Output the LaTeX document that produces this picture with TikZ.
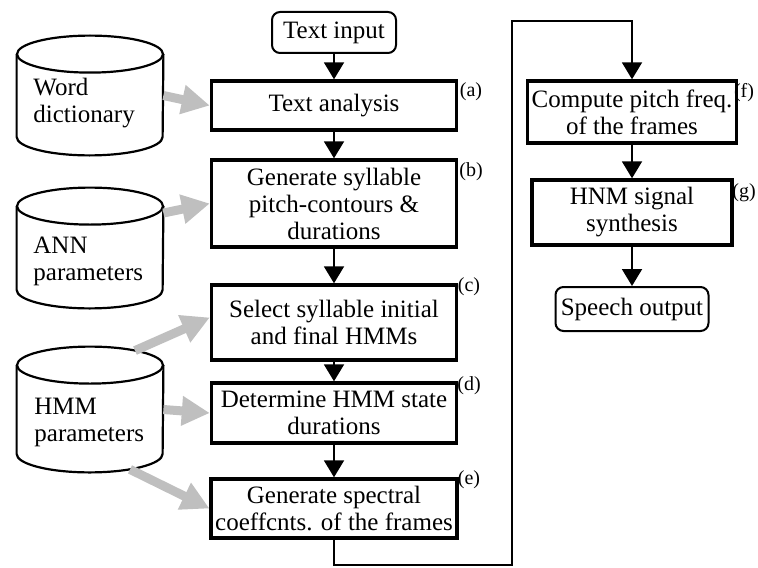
\documentclass[tikz,border=0pt]{standalone}
\usepackage{fontspec}
\setmainfont{Liberation Serif}
\usetikzlibrary{arrows.meta}

\begin{document}
\begin{tikzpicture}[
  x=0.5pt, y=-0.5pt,
  every node/.style={font=\fontsize{12.5}{13.5}\selectfont},
  proc/.style={draw, line width=1.7pt, minimum width=122.5pt, align=center, inner sep=2pt},
  term/.style={draw, line width=1pt, rounded corners=4pt, align=center, inner sep=2pt},
  store/.style={minimum width=73pt, inner sep=0pt},
  dbline/.style={draw, line width=1.1pt, fill=white},
  storetext/.style={anchor=west, align=left, inner sep=0pt},
  tag/.style={font=\fontsize{10}{12}\selectfont, inner sep=0pt},
  flow/.style={line width=1pt, -{Triangle[length=8.5pt,width=10pt]}},
  feed/.style={line width=4.5pt, draw=black!25, -{Triangle[length=14pt,width=14pt]}}
]
\useasboundingbox (0,0) rectangle (758,567);

% Main chain, left column
\node[term, minimum width=62pt, minimum height=20.5pt] (txtin) at (334,32.5) {Text input};
\node[proc, minimum height=24.5pt] (ta) at (334,105.5) {Text analysis};
\node[proc, minimum height=43.5pt] (gs) at (334,203.5) {Generate syllable\\pitch-contours \&\\durations};
\node[proc, minimum height=37.5pt] (sel) at (334,322.5) {Select syllable initial\\and final HMMs};
\node[proc, minimum height=30pt] (det) at (334,413) {Determine HMM state\\durations};
\node[proc, minimum height=29.5pt] (spec) at (334,508.5) {Generate spectral\\coeffcnts. of the frames};

% Right column
\node[proc, minimum width=100pt, minimum height=31pt] (cp) at (632,112) {Compute pitch freq.\\of the frames};
\node[proc, minimum width=100pt, minimum height=32.5pt] (hnm) at (632,212.5) {HNM signal\\synthesis};
\node[term, minimum width=76.5pt, minimum height=22pt] (out) at (632,309) {Speech output};

% Step tags
\node[tag] (tga) at (471,92) {(a)};
\node[tag] (tgb) at (471,172) {(b)};
\node[tag] (tgc) at (469,287) {(c)};
\node[tag] (tgd) at (469,386) {(d)};
\node[tag] (tge) at (469,480) {(e)};
\node[tag] (tgf) at (744,93) {(f)};
\node[tag] (tgg) at (744,193) {(g)};

% Data stores (cylinders)
\node[store, minimum height=59.5pt] (wd) at (90,95.5) {};
\node[store, minimum height=60pt] (ann) at (90,248) {};
\node[store, minimum height=62.5pt] (hmm) at (90,409.5) {};
\foreach \c in {wd,ann,hmm} {
  \draw[dbline] ([yshift=-9.25pt]\c.north west) -- ([yshift=9.25pt]\c.south west)
    arc[start angle=180, end angle=360, x radius=36.5pt, y radius=9.25pt]
    -- ([yshift=-9.25pt]\c.north east);
  \draw[dbline] ([yshift=-9.25pt]\c.north) ellipse [x radius=36.5pt, y radius=9.25pt];
}
\node[storetext] (wdl) at (33,103.5) {Word\\dictionary};
\node[storetext] (annl) at (33,261) {ANN\\parameters};
\node[storetext] (hmml) at (34,422) {HMM\\parameters};

% arrows
\draw[flow] (txtin) -- (ta);
\draw[flow] (ta) -- (gs);
\draw[flow] (gs) -- (sel);
\draw[flow] (sel) -- (det);
\draw[flow] (det) -- (spec);
\coordinate (lb) at (512,565);
\coordinate (lt) at (512,21);
\draw[flow] (spec.south) |- (lb) -- (lt) -| (cp.north);
\draw[flow] (cp) -- (hnm);
\draw[flow] (hnm) -- (out);

% store inputs
\draw[feed] (wd.east) -- (ta.west);
\draw[feed] ([yshift=17.5pt]ann.east) -- (gs.west);
\draw[feed] ([xshift=22.5pt,yshift=-2pt]hmm.north) -- ([yshift=2.5pt]sel.west);
\draw[feed] (hmm.east) -- (det.west);
\draw[feed] ([xshift=20pt,yshift=1.5pt]hmm.south) -- (spec.west);
\end{tikzpicture}
\end{document}
